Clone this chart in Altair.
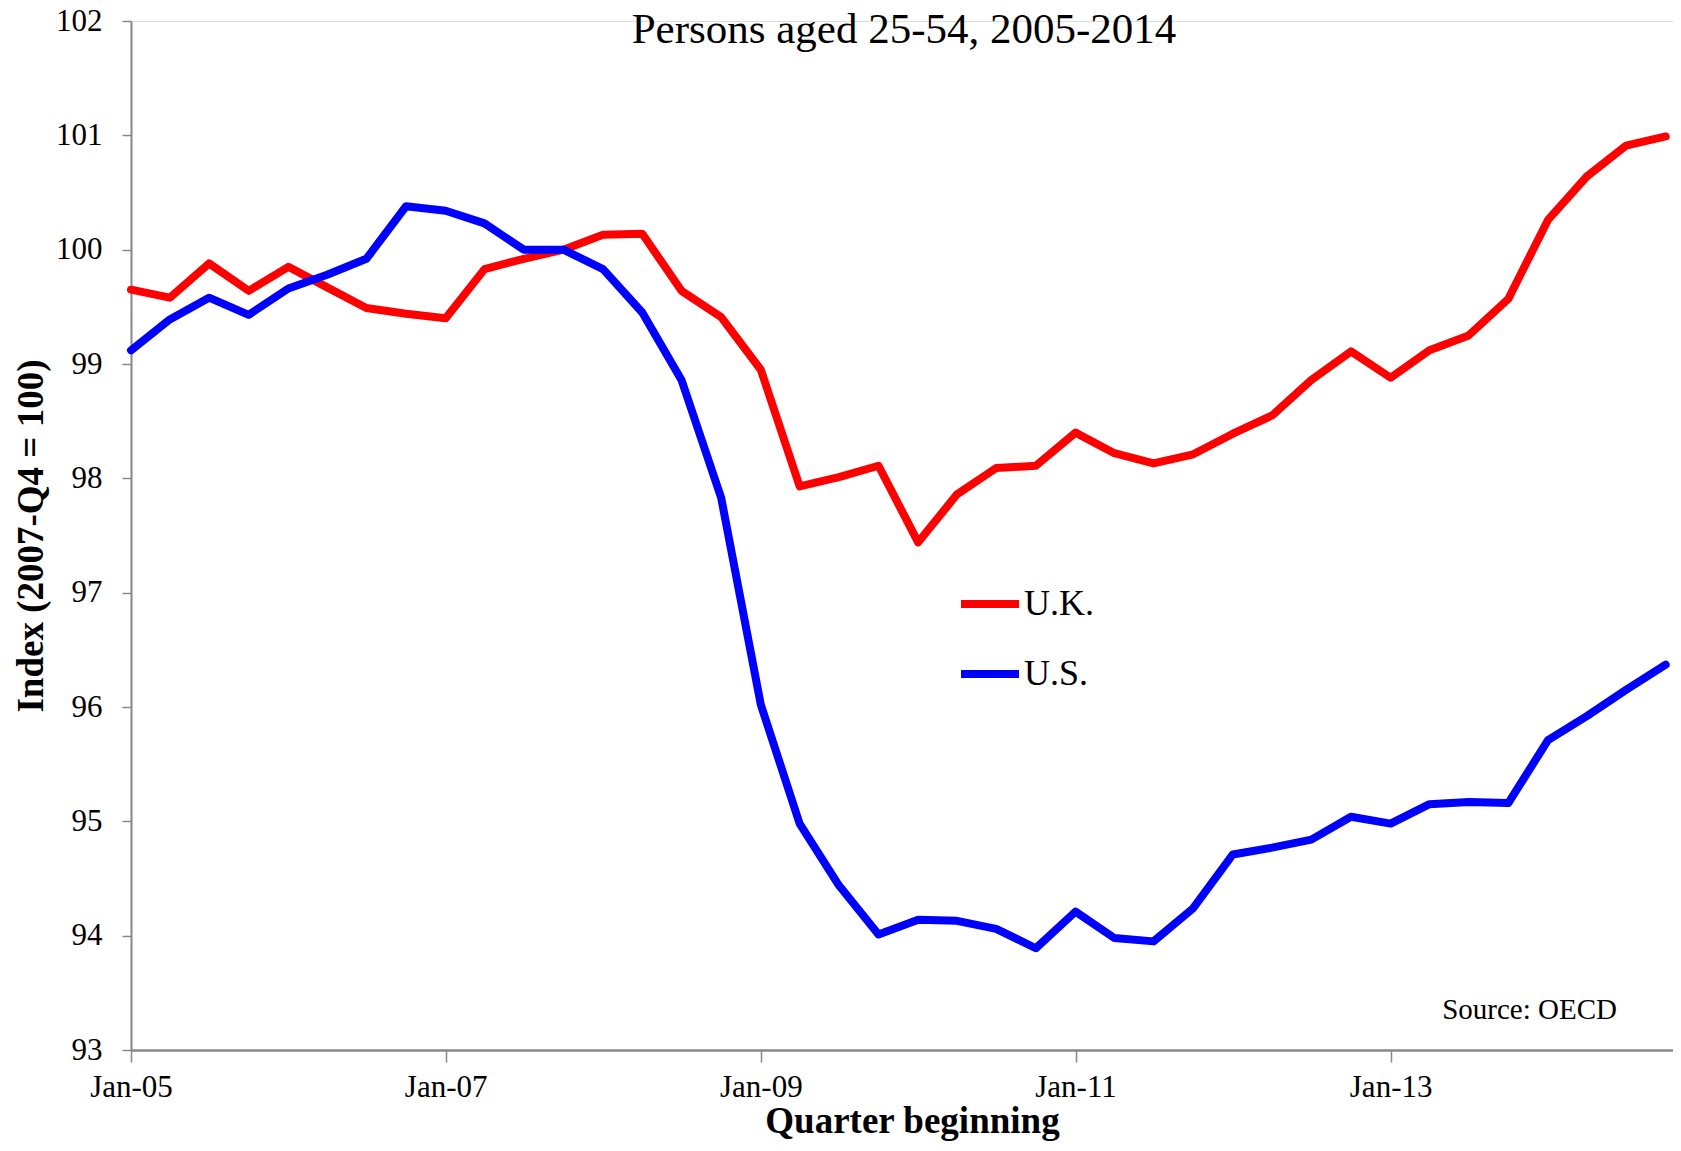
import altair as alt
import pandas as pd

# Quarter starting dates, Q1 2005 .. Q4 2014
quarters = [f"{y}-{m:02d}-01" for y in range(2005, 2015) for m in (1, 4, 7, 10)]

uk_values = [99.65, 99.58, 99.88, 99.64, 99.85, 99.67, 99.49, 99.44, 99.40, 99.83,
             99.92, 100.00, 100.13, 100.14, 99.64, 99.41, 98.95, 97.93, 98.01, 98.11,
             97.44, 97.86, 98.09, 98.11, 98.40, 98.22, 98.13, 98.21, 98.39, 98.55,
             98.86, 99.11, 98.88, 99.12, 99.25, 99.57, 100.26, 100.64, 100.91, 100.99]

us_values = [99.12, 99.39, 99.58, 99.43, 99.66, 99.78, 99.92, 100.38, 100.34, 100.23,
             100.00, 100.00, 99.83, 99.45, 98.86, 97.83, 96.02, 94.98, 94.44, 94.01,
             94.14, 94.13, 94.06, 93.89, 94.21, 93.98, 93.95, 94.24, 94.71, 94.77,
             94.84, 95.04, 94.98, 95.15, 95.17, 95.16, 95.71, 95.92, 96.15, 96.37]

series_names = ["U.K.", "U.S."]
series_colors = ["#FF0000", "#0000FF"]
tick_years = [2005, 2007, 2009, 2011, 2013]
y_ticks = [93, 94, 95, 96, 97, 98, 99, 100, 101, 102]

chart_title = ["Persons aged 25-54, 2005-2014"]
source_note = ["Source: OECD"]
source_pos_date = ["2014-06-10"]
source_pos_value = [93.35]

rows = []
for d, v in zip(quarters, uk_values):
    rows.append({"date": d, "value": v, "country": series_names[0]})
for d, v in zip(quarters, us_values):
    rows.append({"date": d, "value": v, "country": series_names[1]})
df = pd.DataFrame(rows)

note_df = pd.DataFrame({"date": source_pos_date, "value": source_pos_value, "text": source_note})
title_df = pd.DataFrame({"text": chart_title})

FONT = "Liberation Serif"
W, H = 1542, 1029

x_scale = alt.Scale(type="utc",
                    domain=[alt.DateTime(year=2005, month=1, date=1, utc=True),
                            alt.DateTime(year=2014, month=10, date=18, utc=True)],
                    nice=False)
y_scale = alt.Scale(domain=[93, 102], nice=False, zero=False)

lines = alt.Chart(df).mark_line(strokeWidth=8, strokeCap="round", strokeJoin="round").encode(
    x=alt.X("date:T", scale=x_scale,
            axis=alt.Axis(values=[alt.DateTime(year=y, month=1, date=1, utc=True) for y in tick_years],
                          format="%b-%y", title="Quarter beginning", labelFlush=False,
                          labelFont=FONT, labelFontSize=31, labelColor="black",
                          labelPadding=10, tickSize=12, tickWidth=1.5, tickColor="#888888",
                          domainColor="#888888", domainWidth=2.5, grid=False,
                          titleFont=FONT, titleFontSize=37, titleFontWeight="bold",
                          titleColor="black", titlePadding=1, titleX=781)),
    y=alt.Y("value:Q", scale=y_scale,
            axis=alt.Axis(values=y_ticks, format="d", title="Index (2007-Q4 = 100)",
                          labelFont=FONT, labelFontSize=31, labelColor="black",
                          labelPadding=20, tickSize=9, tickWidth=1.5, tickColor="#888888",
                          domainColor="#888888", domainWidth=2, grid=False,
                          titleFont=FONT, titleFontSize=37, titleFontWeight="bold",
                          titleColor="black", titlePadding=5)),
    color=alt.Color("country:N",
                    scale=alt.Scale(domain=series_names, range=series_colors),
                    legend=alt.Legend(orient="none", legendX=826, legendY=550, title=None,
                                      symbolType="stroke", symbolSize=3364, symbolStrokeWidth=8,
                                      labelFont=FONT, labelFontSize=36, labelColor="black",
                                      labelOffset=1, rowPadding=19, padding=0)),
)

note = alt.Chart(note_df).mark_text(font=FONT, fontSize=29, align="right", baseline="middle",
                                    color="black").encode(
    x=alt.X("date:T", scale=x_scale),
    y=alt.Y("value:Q", scale=y_scale),
    text="text:N",
)

title = alt.Chart(title_df).mark_text(font=FONT, fontSize=43, align="center",
                                      baseline="alphabetic", color="black").encode(
    x=alt.value(773),
    y=alt.value(22),
    text="text:N",
)

chart = alt.layer(lines, note, title).properties(
    width=W,
    height=H,
    autosize=alt.AutoSizeParams(type="none"),
    padding={"left": 123, "top": 13, "right": 0, "bottom": 93},
).configure_view(stroke=None).configure(background="white")

chart.save("out.html", embed_options={"renderer": "svg", "actions": False})
